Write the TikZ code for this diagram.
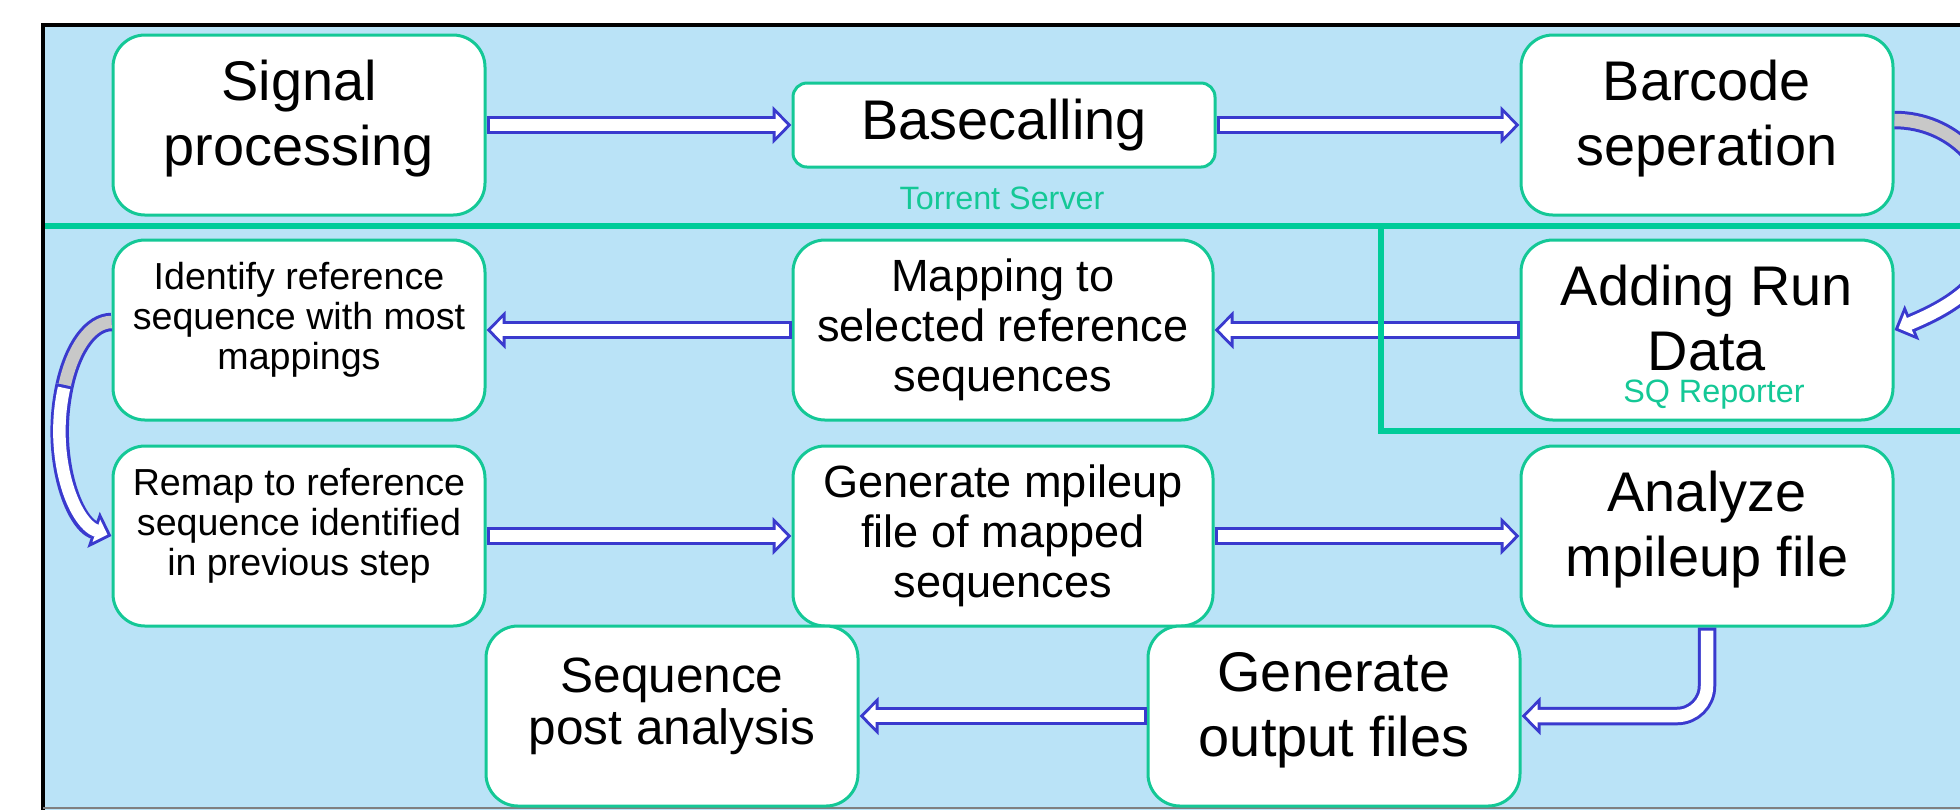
\documentclass[tikz,border=0pt]{standalone}
\usepackage{fontspec}
\setmainfont{Liberation Sans}
\usetikzlibrary{arrows.meta}

\definecolor{panelblue}{RGB}{186,227,247}
\definecolor{boxgreen}{RGB}{20,200,150}
\definecolor{linegreen}{RGB}{0,204,153}
\definecolor{flowblue}{RGB}{58,58,206}
\definecolor{flowgray}{RGB}{200,200,200}

\tikzset{
  box/.style={draw=boxgreen, line width=0.3mm, fill=white, rounded corners=3.2mm,
    minimum width=37.2mm, minimum height=18mm, align=center, inner sep=0pt},
  widebox/.style={box, minimum width=42mm},
  bigtext/.style={font=\fontsize{15.9}{18.5}\selectfont},
  midtext/.style={font=\fontsize{12.85}{14.2}\selectfont},
  smalltext/.style={font=\fontsize{10.7}{11.4}\selectfont},
  note/.style={text=boxgreen, font=\fontsize{9.2}{11}\selectfont, inner sep=0pt},
  flow/.style={draw=white, line width=1.25mm, shorten >=0.43mm, shorten <=0.3mm,
    -{Triangle[length=1.17mm, width=2.3mm]},
    preaction={draw=flowblue, line width=1.85mm, shorten >=0pt, shorten <=0pt,
      -{Triangle[length=1.9mm, width=3.7mm]}}},
  flowback/.style={draw=flowgray, line width=1.25mm,
    preaction={draw=flowblue, line width=1.85mm}},
  divider/.style={draw=linegreen, line width=0.65mm}
}

\begin{document}
\begin{tikzpicture}[x=0.1mm, y=-0.1mm]
\useasboundingbox (0,0) rectangle (1960,809);
\clip (0,0) rectangle (1960,809);

% panel
\fill[panelblue] (43,25) rectangle (1980,820);
\draw[line width=0.45mm] (43,830) -- (43,25) -- (1980,25);
\draw[gray, line width=0.2mm] (43,808) -- (1980,808);

% boxes
\node[box, bigtext, text depth=2.4mm] (sig) at (299,125) {Signal\\processing};
\node[box, bigtext, minimum width=42.2mm, minimum height=8.4mm, rounded corners=1.4mm] (base) at (1004,125) {Basecalling};
\node[box, bigtext, text depth=2.4mm] (bar) at (1707,125) {Barcode\\seperation};

\node[box, smalltext, text depth=2.8mm] (iden) at (299,330) {Identify reference\\sequence with most\\mappings};
\node[widebox, midtext] (map) at (1003,330) {Mapping to\\selected reference\\sequences};
\node[box, bigtext, text depth=2.4mm] (add) at (1707,330) {Adding Run\\Data};

\node[box, smalltext, text depth=2.8mm] (remap) at (299,536) {Remap to reference\\sequence identified\\in previous step};
\node[widebox, midtext] (mpil) at (1003,536) {Generate mpileup\\file of mapped\\sequences};
\node[box, bigtext, text depth=2.4mm] (ana) at (1707,536) {Analyze\\mpileup file};

\node[box, font=\fontsize{14.1}{14.8}\selectfont, text depth=2.9mm] (post) at (672,716) {Sequence\\post analysis};
\node[box, bigtext, text depth=2.4mm] (outp) at (1334,716) {Generate\\output files};

\node[note] (torrent) at (1002,198) {Torrent Server};
\node[note] (sq) at (1714,395) {SQ Reporter};

% arrows
\foreach \a/\b in {sig/base, base/bar, add/map, map/iden, remap/mpil, mpil/ana, outp/post}
  \draw[flow] (\a) -- (\b);

\draw[flow, rounded corners=3mm] (ana.south) |- (outp.east);

\coordinate (barturn) at (1996,222);
\draw[flowback] ([yshift=0.5mm]bar.east) .. controls +(57,0) and +(0,-57) .. (barturn);
\draw[flow] (barturn) .. controls +(0,57) and +(60,-25) .. (add.east);

\coordinate (identurn) at (64.7,385);
\draw[flowback] ([yshift=0.8mm]iden.west) .. controls +(-20,0) and +(8.5,-38.4) .. (identurn);
\draw[flow] (identurn) .. controls +(-15.8,71.5) and +(-38,-13) .. (remap.west);

% server / reporter split
\draw[divider] (45,226) -- (1960,226);
\draw[divider] (1381,226) |- (1960,431);

\end{tikzpicture}
\end{document}
